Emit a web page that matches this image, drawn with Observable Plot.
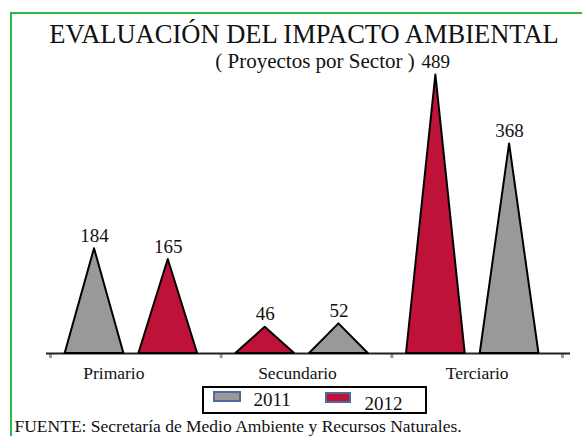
<!DOCTYPE html>
<html>
<head>
<meta charset="utf-8">
<script src="https://cdn.jsdelivr.net/npm/d3@7"></script>
<script src="https://cdn.jsdelivr.net/npm/@observablehq/plot@0.6"></script>
<style>
  html, body { margin: 0; padding: 0; background: #fff; }
  #c { position: relative; width: 582px; height: 436px; overflow: hidden; background: #fff; font-family: "Liberation Serif", serif; }
  #frame { position: absolute; left: 10px; top: 12px; width: 700px; height: 600px; border-left: 2px solid #2cb84f; border-top: 2px solid #2cb84f; }
  #c svg { position: absolute; left: 0; top: 0; }
  #c svg text { font-family: "Liberation Serif", serif; }
  #legbox { position: absolute; left: 202px; top: 386px; width: 225px; height: 28px; box-sizing: border-box; border: 2px solid #000; }
  .sw { position: absolute; height: 11px; box-sizing: border-box; border: 2px solid #4a6b9c; }
</style>
</head>
<body>
<div id="c">
  <div id="frame"></div>
  <div id="legbox"></div>
  <div class="sw" style="left:213px;top:391px;width:28px;background:#999999"></div>
  <div class="sw" style="left:325px;top:392px;width:26px;background:#be1238"></div>
</div>
<script>
// ---- data ----
const sectors = ["Primario", "Secundario", "Terciario"];
const series = ["2011", "2012"];
const values2011 = [184, 52, 368];
const values2012 = [165, 46, 489];
// which year is drawn on the left of each sector group
const leftSeries = ["2011", "2012", "2012"];
const colors = ["#999999", "#be1238"];

// ---- layout (style) ----
const slotCenter = [0.258, 0.69];
const halfWidth = 0.172;
const labelNudge = [-22, -9, 0];
const serif = "Liberation Serif";

const rows = [];
sectors.forEach((s, i) => {
  const order = leftSeries[i] === "2011" ? ["2011", "2012"] : ["2012", "2011"];
  order.forEach((yr, slot) => {
    const value = yr === "2011" ? values2011[i] : values2012[i];
    rows.push({sector: s, series: yr, value, cx: i + slotCenter[slot], id: s + "-" + yr});
  });
});
const pts = rows.flatMap(r => [
  {id: r.id, series: r.series, x: r.cx - halfWidth, y: 0},
  {id: r.id, series: r.series, x: r.cx, y: r.value},
  {id: r.id, series: r.series, x: r.cx + halfWidth, y: 0}
]);

const chart = Plot.plot({
  width: 582,
  height: 436,
  marginLeft: 50,
  marginRight: 20,
  marginTop: 17,
  marginBottom: 83,
  style: {fontFamily: serif, fontSize: "17px", background: "none", color: "#111"},
  x: {domain: [0, 3], label: null},
  y: {domain: [0, 590], axis: null, label: null},
  color: {domain: series, range: colors},
  marks: [
    Plot.axisX({ticks: [0, 1, 2, 3], tickFormat: () => "", tickSize: 5, stroke: "#9a9a9a", strokeWidth: 3, label: null}),
    Plot.ruleY([0], {stroke: "#222", strokeWidth: 2, insetLeft: -4, insetRight: -8}),
    Plot.areaY(pts, {x: "x", y: "y", z: "id", fill: "series", stroke: "#000", strokeWidth: 2, strokeLinejoin: "round", curve: "linear"}),
    Plot.text(rows, {x: "cx", y: "value", text: d => String(d.value), dy: -7, lineAnchor: "bottom", fontSize: 19, fontFamily: serif, fill: "#111"}),
    ...sectors.map((s, i) => Plot.text([s], {x: () => i + 0.5, y: () => 0, text: d => d, dy: 25, dx: labelNudge[i], lineAnchor: "bottom", fontSize: 17.5, fontFamily: serif, fill: "#111"})),
    Plot.text(["EVALUACIÓN DEL IMPACTO AMBIENTAL"], {frameAnchor: "top", dy: 25, dx: -2.5, lineAnchor: "bottom", fontSize: 26.5, fontFamily: serif, fill: "#111"}),
    Plot.text(["( Proyectos por Sector )"], {frameAnchor: "top", dy: 50, dx: 8.5, lineAnchor: "bottom", fontSize: 21, fontFamily: serif, fill: "#111"}),
    Plot.text([series[0]], {frameAnchor: "bottom-left", dx: 203, dy: 52, lineAnchor: "bottom", fontSize: 19, fontFamily: serif, fill: "#111"}),
    Plot.text([series[1]], {frameAnchor: "bottom-left", dx: 314, dy: 56, lineAnchor: "bottom", fontSize: 19, fontFamily: serif, fill: "#111"}),
    Plot.text(["FUENTE: Secretaría de Medio Ambiente y Recursos Naturales."], {frameAnchor: "bottom-left", dx: -36, dy: 78, lineAnchor: "bottom", fontSize: 17.5, fontFamily: serif, fill: "#111"})
  ]
});
document.getElementById("c").appendChild(chart);
</script>
</body>
</html>
